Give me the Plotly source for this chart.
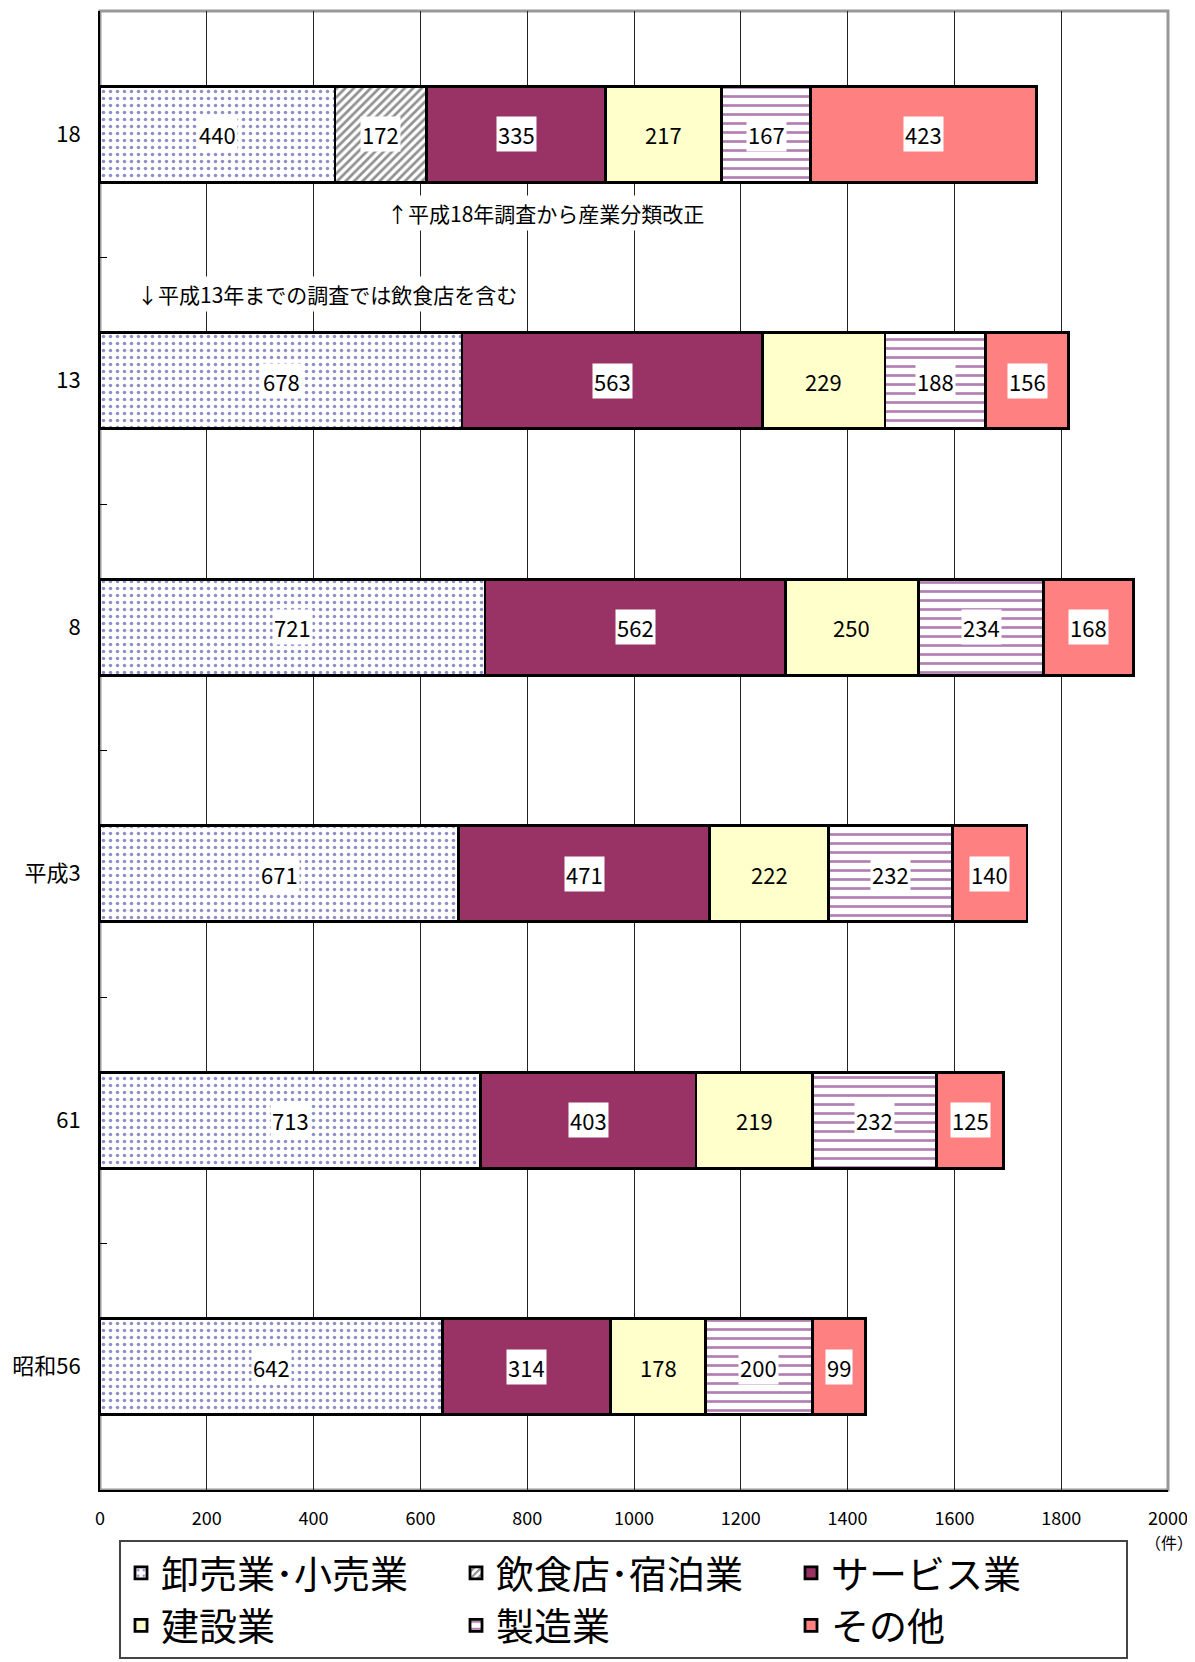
import plotly.graph_objects as go

categories = ["昭和56", "61", "平成3", "8", "13", "18"]
series_names = ["卸売業･小売業", "飲食店･宿泊業", "サービス業", "建設業", "製造業", "その他"]
wholesale = [642, 713, 671, 721, 678, 440]
restaurant = [None, None, None, None, None, 172]
service = [314, 403, 471, 562, 563, 335]
construction = [178, 219, 222, 250, 229, 217]
manufacturing = [200, 232, 232, 234, 188, 167]
other = [99, 125, 140, 168, 156, 423]
x_ticks = [0, 200, 400, 600, 800, 1000, 1200, 1400, 1600, 1800, 2000]

series_values = [wholesale, restaurant, service, construction, manufacturing, other]
FONT = "Noto Sans CJK JP"

styles = [
    dict(color="white", pattern=dict(shape=".", fgcolor="#1E1E96", bgcolor="white", size=7, solidity=0.2)),
    dict(color="white", pattern=dict(shape="/", fgcolor="#222222", bgcolor="white", size=6, solidity=0.45)),
    dict(color="#993366"),
    dict(color="#FFFFCC"),
    dict(color="white", pattern=dict(shape="-", fgcolor="#660066", bgcolor="white", size=9, solidity=0.3)),
    dict(color="#FF8080"),
]

fig = go.Figure()
for name, vals, st in zip(series_names, series_values, styles):
    fig.add_trace(go.Bar(
        y=categories, x=vals, name=name, orientation="h", width=0.39,
        marker=dict(line=dict(color="black", width=2.8), **st),
        hoverinfo="x+name",
    ))

annotations = []
for i, cat in enumerate(categories):
    cum = 0
    for j, vals in enumerate(series_values):
        v = vals[i]
        if v is None:
            continue
        center = cum + v / 2
        cum += v
        annotations.append(dict(
            x=center, y=i, xref="x", yref="y", text=str(v), showarrow=False,
            font=dict(family=FONT, size=22, color="black"),
            bgcolor=None if j == 3 else "white", borderpad=1,
        ))

annotations.append(dict(
    x=532, y=4.68, xref="x", yref="y", xanchor="left", yanchor="middle",
    text="↑平成18年調査から産業分類改正", showarrow=False,
    font=dict(family=FONT, size=21, color="black"), bgcolor="white", borderpad=2,
))
annotations.append(dict(
    x=64, y=4.35, xref="x", yref="y", xanchor="left", yanchor="middle",
    text="↓平成13年までの調査では飲食店を含む", showarrow=False,
    font=dict(family=FONT, size=21, color="black"), bgcolor="white", borderpad=2,
))
annotations.append(dict(
    x=1.0, y=-0.026, xref="paper", yref="paper", xanchor="center", yanchor="top", xshift=1,
    text="（件）", showarrow=False, font=dict(family=FONT, size=16, color="black"),
))

fig.update_layout(
    width=1187, height=1654,
    margin=dict(l=92, r=27, t=3, b=155),
    plot_bgcolor="white", paper_bgcolor="white",
    barmode="stack",
    font=dict(family=FONT, color="black"),
    annotations=annotations,
    showlegend=True,
    legend=dict(
        orientation="h", x=0.0178, y=-0.0336, xanchor="left", yanchor="top",
        entrywidth=290, entrywidthmode="pixels",
        font=dict(family=FONT, size=38, color="black"),
        bordercolor="#444444", borderwidth=2, bgcolor="white",
        traceorder="normal", itemwidth=30, tracegroupgap=0,
    ),
    shapes=[dict(type="rect", xref="x domain", yref="y domain", x0=0, x1=1, y0=0, y1=1,
                 line=dict(color="#999999", width=3), layer="below")],
)
fig.update_xaxes(
    range=[0, 2000], tickvals=x_ticks, ticks="", showgrid=True, gridcolor="#222222", gridwidth=1,
    showline=True, linecolor="black", linewidth=2, zeroline=False,
    tickfont=dict(family=FONT, size=18, color="black"), ticklabelstandoff=11,
)
fig.update_yaxes(
    type="category", categoryorder="array", categoryarray=categories, range=[-0.5, 5.5],
    showgrid=False, showline=True, linecolor="black", linewidth=2,
    ticks="inside", tickson="boundaries", ticklen=7, tickcolor="black",
    tickfont=dict(family=FONT, size=22, color="black"), ticklabelstandoff=13,
)

fig.write_html("out.html")
